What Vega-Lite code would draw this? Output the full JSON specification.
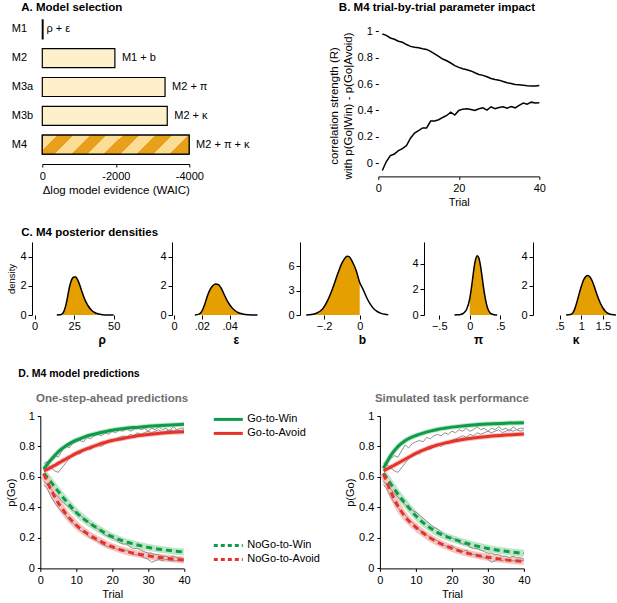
{
  "$schema": "https://vega.github.io/schema/vega-lite/v6.json",
  "padding": {"left": 5, "top": 1, "right": 0, "bottom": 0},
  "spacing": 18,
  "config": {
    "view": {"stroke": null},
    "font": "Liberation Sans",
    "axis": {"grid": false, "domainColor": "#000", "tickColor": "#000", "labelColor": "#000", "titleColor": "#000", "labelFontSize": 11, "titleFontSize": 11, "titleFontWeight": "normal", "tickSize": 4, "labelPadding": 2, "titlePadding": 4, "labelFlush": false, "labelOverlap": false, "labelFont": "Liberation Sans", "titleFont": "Liberation Sans"},
    "title": {"font": "Liberation Sans", "fontSize": 11.5, "fontWeight": "bold", "color": "#000"},
    "legend": {"labelFont": "Liberation Sans", "labelFontSize": 11, "labelColor": "#000", "padding": 0, "rowPadding": 1, "symbolStrokeWidth": 3, "symbolType": "M-2.9,0L2.9,0", "symbolSize": 100, "labelOffset": 12.5}
  },
  "resolve": {"scale": {"color": "independent", "stroke": "independent"}},
  "datasets": {
    "models": [
      {"model": "M1", "ev": -20, "label": "ρ + ε"},
      {"model": "M2", "ev": -1975, "label": "M1 + b"},
      {"model": "M3a", "ev": -3340, "label": "M2 + π"},
      {"model": "M3b", "ev": -3400, "label": "M2 + κ"},
      {"model": "M4", "ev": -3995, "label": "M2 + π + κ"}
    ],
    "impact": [
      {"t": 1, "pav": 0.98, "learn": -0.055}, {"t": 2, "pav": 0.97, "learn": 0.013}, {"t": 3, "pav": 0.95, "learn": 0.058}, {"t": 4, "pav": 0.94, "learn": 0.07},
      {"t": 5, "pav": 0.925, "learn": 0.096}, {"t": 6, "pav": 0.917, "learn": 0.11}, {"t": 7, "pav": 0.9, "learn": 0.134}, {"t": 8, "pav": 0.886, "learn": 0.19},
      {"t": 9, "pav": 0.88, "learn": 0.228}, {"t": 10, "pav": 0.876, "learn": 0.248}, {"t": 11, "pav": 0.868, "learn": 0.268}, {"t": 12, "pav": 0.863, "learn": 0.268},
      {"t": 13, "pav": 0.848, "learn": 0.32}, {"t": 14, "pav": 0.83, "learn": 0.32}, {"t": 15, "pav": 0.81, "learn": 0.33}, {"t": 16, "pav": 0.79, "learn": 0.347},
      {"t": 17, "pav": 0.777, "learn": 0.362}, {"t": 18, "pav": 0.76, "learn": 0.387}, {"t": 19, "pav": 0.74, "learn": 0.365}, {"t": 20, "pav": 0.727, "learn": 0.4},
      {"t": 21, "pav": 0.716, "learn": 0.41}, {"t": 22, "pav": 0.709, "learn": 0.413}, {"t": 23, "pav": 0.7, "learn": 0.408}, {"t": 24, "pav": 0.686, "learn": 0.4},
      {"t": 25, "pav": 0.673, "learn": 0.413}, {"t": 26, "pav": 0.666, "learn": 0.42}, {"t": 27, "pav": 0.656, "learn": 0.403}, {"t": 28, "pav": 0.643, "learn": 0.428},
      {"t": 29, "pav": 0.635, "learn": 0.413}, {"t": 30, "pav": 0.63, "learn": 0.423}, {"t": 31, "pav": 0.62, "learn": 0.428}, {"t": 32, "pav": 0.61, "learn": 0.418},
      {"t": 33, "pav": 0.605, "learn": 0.43}, {"t": 34, "pav": 0.597, "learn": 0.42}, {"t": 35, "pav": 0.595, "learn": 0.438}, {"t": 36, "pav": 0.592, "learn": 0.456},
      {"t": 37, "pav": 0.587, "learn": 0.448}, {"t": 38, "pav": 0.585, "learn": 0.463}, {"t": 39, "pav": 0.585, "learn": 0.456}, {"t": 40, "pav": 0.59, "learn": 0.458}
    ],
    "rho": [
      {"x": 14, "d": 0}, {"x": 16, "d": 0.01}, {"x": 17, "d": 0.05}, {"x": 18, "d": 0.15}, {"x": 19, "d": 0.4}, {"x": 20, "d": 0.8},
      {"x": 21, "d": 1.35}, {"x": 22, "d": 1.9}, {"x": 23, "d": 2.3}, {"x": 24, "d": 2.53}, {"x": 25, "d": 2.6}, {"x": 26, "d": 2.6},
      {"x": 27, "d": 2.45}, {"x": 28, "d": 2.2}, {"x": 29, "d": 1.9}, {"x": 30, "d": 1.57}, {"x": 31, "d": 1.27}, {"x": 32, "d": 1.0},
      {"x": 33, "d": 0.78}, {"x": 34, "d": 0.6}, {"x": 35, "d": 0.45}, {"x": 36, "d": 0.33}, {"x": 38, "d": 0.17}, {"x": 40, "d": 0.08},
      {"x": 43, "d": 0.025}, {"x": 47, "d": 0.005}, {"x": 50, "d": 0}
    ],
    "eps": [
      {"x": 0.015, "d": 0}, {"x": 0.018, "d": 0.06}, {"x": 0.02, "d": 0.25}, {"x": 0.022, "d": 0.7}, {"x": 0.024, "d": 1.3}, {"x": 0.026, "d": 1.75},
      {"x": 0.028, "d": 2.02}, {"x": 0.03, "d": 2.13}, {"x": 0.032, "d": 2.08}, {"x": 0.034, "d": 1.82}, {"x": 0.036, "d": 1.42}, {"x": 0.038, "d": 1.02},
      {"x": 0.04, "d": 0.7}, {"x": 0.042, "d": 0.46}, {"x": 0.044, "d": 0.29}, {"x": 0.046, "d": 0.17}, {"x": 0.048, "d": 0.1}, {"x": 0.05, "d": 0.055},
      {"x": 0.053, "d": 0.02}, {"x": 0.057, "d": 0.005}, {"x": 0.06, "d": 0}
    ],
    "bias": [
      {"x": -0.3, "d": 0}, {"x": -0.27, "d": 0.05}, {"x": -0.24, "d": 0.25}, {"x": -0.21, "d": 0.7}, {"x": -0.18, "d": 1.8}, {"x": -0.15, "d": 3.4},
      {"x": -0.12, "d": 5.3}, {"x": -0.1, "d": 6.4}, {"x": -0.08, "d": 7.1}, {"x": -0.07, "d": 7.25}, {"x": -0.06, "d": 7.2}, {"x": -0.04, "d": 6.5},
      {"x": -0.02, "d": 5.5}, {"x": 0, "d": 4.0}, {"x": 0.02, "d": 3.1}, {"x": 0.04, "d": 2.1}, {"x": 0.06, "d": 1.3}, {"x": 0.08, "d": 0.73},
      {"x": 0.1, "d": 0.4}, {"x": 0.12, "d": 0.2}, {"x": 0.14, "d": 0.08}, {"x": 0.16, "d": 0.02}
    ],
    "pi": [
      {"x": -0.25, "d": 0}, {"x": -0.2, "d": 0.01}, {"x": -0.15, "d": 0.04}, {"x": -0.1, "d": 0.15}, {"x": -0.05, "d": 0.45}, {"x": 0, "d": 1.25},
      {"x": 0.025, "d": 2.0}, {"x": 0.05, "d": 2.9}, {"x": 0.075, "d": 3.8}, {"x": 0.1, "d": 4.4}, {"x": 0.125, "d": 4.62}, {"x": 0.15, "d": 4.45},
      {"x": 0.175, "d": 3.9}, {"x": 0.2, "d": 3.1}, {"x": 0.225, "d": 2.2}, {"x": 0.25, "d": 1.45}, {"x": 0.275, "d": 0.85}, {"x": 0.3, "d": 0.45},
      {"x": 0.325, "d": 0.22}, {"x": 0.35, "d": 0.1}, {"x": 0.4, "d": 0.02}, {"x": 0.45, "d": 0}
    ],
    "kappa": [
      {"x": 0.65, "d": 0}, {"x": 0.75, "d": 0.03}, {"x": 0.8, "d": 0.13}, {"x": 0.85, "d": 0.42}, {"x": 0.9, "d": 0.9}, {"x": 0.95, "d": 1.45},
      {"x": 1.0, "d": 1.95}, {"x": 1.05, "d": 2.38}, {"x": 1.1, "d": 2.62}, {"x": 1.15, "d": 2.7}, {"x": 1.2, "d": 2.6}, {"x": 1.25, "d": 2.35},
      {"x": 1.3, "d": 1.95}, {"x": 1.35, "d": 1.5}, {"x": 1.4, "d": 1.1}, {"x": 1.45, "d": 0.75}, {"x": 1.5, "d": 0.48}, {"x": 1.55, "d": 0.28},
      {"x": 1.6, "d": 0.15}, {"x": 1.65, "d": 0.07}, {"x": 1.7, "d": 0.03}, {"x": 1.8, "d": 0}
    ],
    "modelL": [
      {"t": 1, "Go-to-Win": 0.652, "Go-to-Avoid": 0.64, "NoGo-to-Win": 0.625, "NoGo-to-Avoid": 0.62},
      {"t": 2, "Go-to-Win": 0.685, "Go-to-Avoid": 0.651, "NoGo-to-Win": 0.595, "NoGo-to-Avoid": 0.565},
      {"t": 3, "Go-to-Win": 0.713, "Go-to-Avoid": 0.663, "NoGo-to-Win": 0.565, "NoGo-to-Avoid": 0.515},
      {"t": 4, "Go-to-Win": 0.74, "Go-to-Avoid": 0.676, "NoGo-to-Win": 0.534, "NoGo-to-Avoid": 0.47},
      {"t": 5, "Go-to-Win": 0.765, "Go-to-Avoid": 0.689, "NoGo-to-Win": 0.505, "NoGo-to-Avoid": 0.43},
      {"t": 6, "Go-to-Win": 0.785, "Go-to-Avoid": 0.703, "NoGo-to-Win": 0.475, "NoGo-to-Avoid": 0.395},
      {"t": 7, "Go-to-Win": 0.802, "Go-to-Avoid": 0.716, "NoGo-to-Win": 0.447, "NoGo-to-Avoid": 0.362},
      {"t": 8, "Go-to-Win": 0.817, "Go-to-Avoid": 0.729, "NoGo-to-Win": 0.42, "NoGo-to-Avoid": 0.333},
      {"t": 10, "Go-to-Win": 0.842, "Go-to-Avoid": 0.755, "NoGo-to-Win": 0.368, "NoGo-to-Avoid": 0.284},
      {"t": 12, "Go-to-Win": 0.86, "Go-to-Avoid": 0.776, "NoGo-to-Win": 0.327, "NoGo-to-Avoid": 0.245},
      {"t": 14, "Go-to-Win": 0.875, "Go-to-Avoid": 0.794, "NoGo-to-Win": 0.292, "NoGo-to-Avoid": 0.214},
      {"t": 16, "Go-to-Win": 0.887, "Go-to-Avoid": 0.811, "NoGo-to-Win": 0.262, "NoGo-to-Avoid": 0.188},
      {"t": 18, "Go-to-Win": 0.897, "Go-to-Avoid": 0.826, "NoGo-to-Win": 0.232, "NoGo-to-Avoid": 0.163},
      {"t": 20, "Go-to-Win": 0.906, "Go-to-Avoid": 0.839, "NoGo-to-Win": 0.208, "NoGo-to-Avoid": 0.142},
      {"t": 23, "Go-to-Win": 0.916, "Go-to-Avoid": 0.853, "NoGo-to-Win": 0.18, "NoGo-to-Avoid": 0.118},
      {"t": 26, "Go-to-Win": 0.924, "Go-to-Avoid": 0.866, "NoGo-to-Win": 0.16, "NoGo-to-Avoid": 0.1},
      {"t": 30, "Go-to-Win": 0.932, "Go-to-Avoid": 0.878, "NoGo-to-Win": 0.138, "NoGo-to-Avoid": 0.083},
      {"t": 35, "Go-to-Win": 0.94, "Go-to-Avoid": 0.89, "NoGo-to-Win": 0.12, "NoGo-to-Avoid": 0.066},
      {"t": 40, "Go-to-Win": 0.946, "Go-to-Avoid": 0.897, "NoGo-to-Win": 0.107, "NoGo-to-Avoid": 0.055}
    ],
    "modelR": [
      {"t": 1, "Go-to-Win": 0.656, "Go-to-Avoid": 0.64, "NoGo-to-Win": 0.625, "NoGo-to-Avoid": 0.62},
      {"t": 2, "Go-to-Win": 0.7, "Go-to-Avoid": 0.652, "NoGo-to-Win": 0.59, "NoGo-to-Avoid": 0.56},
      {"t": 3, "Go-to-Win": 0.74, "Go-to-Avoid": 0.665, "NoGo-to-Win": 0.555, "NoGo-to-Avoid": 0.505},
      {"t": 4, "Go-to-Win": 0.772, "Go-to-Avoid": 0.677, "NoGo-to-Win": 0.52, "NoGo-to-Avoid": 0.455},
      {"t": 5, "Go-to-Win": 0.799, "Go-to-Avoid": 0.69, "NoGo-to-Win": 0.488, "NoGo-to-Avoid": 0.41},
      {"t": 6, "Go-to-Win": 0.82, "Go-to-Avoid": 0.703, "NoGo-to-Win": 0.457, "NoGo-to-Avoid": 0.372},
      {"t": 7, "Go-to-Win": 0.838, "Go-to-Avoid": 0.716, "NoGo-to-Win": 0.428, "NoGo-to-Avoid": 0.34},
      {"t": 8, "Go-to-Win": 0.852, "Go-to-Avoid": 0.729, "NoGo-to-Win": 0.4, "NoGo-to-Avoid": 0.313},
      {"t": 10, "Go-to-Win": 0.872, "Go-to-Avoid": 0.755, "NoGo-to-Win": 0.345, "NoGo-to-Avoid": 0.27},
      {"t": 12, "Go-to-Win": 0.888, "Go-to-Avoid": 0.776, "NoGo-to-Win": 0.3, "NoGo-to-Avoid": 0.232},
      {"t": 14, "Go-to-Win": 0.901, "Go-to-Avoid": 0.795, "NoGo-to-Win": 0.265, "NoGo-to-Avoid": 0.2},
      {"t": 16, "Go-to-Win": 0.912, "Go-to-Avoid": 0.81, "NoGo-to-Win": 0.235, "NoGo-to-Avoid": 0.173},
      {"t": 18, "Go-to-Win": 0.92, "Go-to-Avoid": 0.822, "NoGo-to-Win": 0.213, "NoGo-to-Avoid": 0.151},
      {"t": 20, "Go-to-Win": 0.927, "Go-to-Avoid": 0.833, "NoGo-to-Win": 0.196, "NoGo-to-Avoid": 0.132},
      {"t": 23, "Go-to-Win": 0.935, "Go-to-Avoid": 0.846, "NoGo-to-Win": 0.172, "NoGo-to-Avoid": 0.108},
      {"t": 26, "Go-to-Win": 0.941, "Go-to-Avoid": 0.856, "NoGo-to-Win": 0.152, "NoGo-to-Avoid": 0.09},
      {"t": 30, "Go-to-Win": 0.947, "Go-to-Avoid": 0.866, "NoGo-to-Win": 0.131, "NoGo-to-Avoid": 0.073},
      {"t": 35, "Go-to-Win": 0.953, "Go-to-Avoid": 0.875, "NoGo-to-Win": 0.112, "NoGo-to-Avoid": 0.056},
      {"t": 40, "Go-to-Win": 0.956, "Go-to-Avoid": 0.882, "NoGo-to-Win": 0.098, "NoGo-to-Avoid": 0.045}
    ],
    "obs": [
      {"t": 1, "Go-to-Win": 0.69, "Go-to-Avoid": 0.66, "NoGo-to-Win": 0.57, "NoGo-to-Avoid": 0.55},
      {"t": 2, "Go-to-Win": 0.7, "Go-to-Avoid": 0.68, "NoGo-to-Win": 0.55, "NoGo-to-Avoid": 0.52},
      {"t": 3, "Go-to-Win": 0.72, "Go-to-Avoid": 0.66, "NoGo-to-Win": 0.52, "NoGo-to-Avoid": 0.47},
      {"t": 4, "Go-to-Win": 0.74, "Go-to-Avoid": 0.64, "NoGo-to-Win": 0.49, "NoGo-to-Avoid": 0.43},
      {"t": 5, "Go-to-Win": 0.73, "Go-to-Avoid": 0.63, "NoGo-to-Win": 0.47, "NoGo-to-Avoid": 0.4},
      {"t": 6, "Go-to-Win": 0.77, "Go-to-Avoid": 0.66, "NoGo-to-Win": 0.44, "NoGo-to-Avoid": 0.37},
      {"t": 7, "Go-to-Win": 0.81, "Go-to-Avoid": 0.69, "NoGo-to-Win": 0.42, "NoGo-to-Avoid": 0.35},
      {"t": 8, "Go-to-Win": 0.79, "Go-to-Avoid": 0.72, "NoGo-to-Win": 0.4, "NoGo-to-Avoid": 0.32},
      {"t": 9, "Go-to-Win": 0.82, "Go-to-Avoid": 0.74, "NoGo-to-Win": 0.38, "NoGo-to-Avoid": 0.3},
      {"t": 10, "Go-to-Win": 0.83, "Go-to-Avoid": 0.76, "NoGo-to-Win": 0.37, "NoGo-to-Avoid": 0.28},
      {"t": 11, "Go-to-Win": 0.84, "Go-to-Avoid": 0.75, "NoGo-to-Win": 0.35, "NoGo-to-Avoid": 0.25},
      {"t": 12, "Go-to-Win": 0.83, "Go-to-Avoid": 0.78, "NoGo-to-Win": 0.33, "NoGo-to-Avoid": 0.24},
      {"t": 13, "Go-to-Win": 0.86, "Go-to-Avoid": 0.79, "NoGo-to-Win": 0.31, "NoGo-to-Avoid": 0.22},
      {"t": 14, "Go-to-Win": 0.85, "Go-to-Avoid": 0.78, "NoGo-to-Win": 0.29, "NoGo-to-Avoid": 0.2},
      {"t": 15, "Go-to-Win": 0.87, "Go-to-Avoid": 0.8, "NoGo-to-Win": 0.27, "NoGo-to-Avoid": 0.19},
      {"t": 16, "Go-to-Win": 0.88, "Go-to-Avoid": 0.81, "NoGo-to-Win": 0.26, "NoGo-to-Avoid": 0.18},
      {"t": 17, "Go-to-Win": 0.87, "Go-to-Avoid": 0.8, "NoGo-to-Win": 0.24, "NoGo-to-Avoid": 0.16},
      {"t": 18, "Go-to-Win": 0.89, "Go-to-Avoid": 0.82, "NoGo-to-Win": 0.22, "NoGo-to-Avoid": 0.15},
      {"t": 19, "Go-to-Win": 0.88, "Go-to-Avoid": 0.83, "NoGo-to-Win": 0.21, "NoGo-to-Avoid": 0.14},
      {"t": 20, "Go-to-Win": 0.9, "Go-to-Avoid": 0.84, "NoGo-to-Win": 0.2, "NoGo-to-Avoid": 0.15},
      {"t": 21, "Go-to-Win": 0.89, "Go-to-Avoid": 0.85, "NoGo-to-Win": 0.19, "NoGo-to-Avoid": 0.13},
      {"t": 22, "Go-to-Win": 0.91, "Go-to-Avoid": 0.86, "NoGo-to-Win": 0.17, "NoGo-to-Avoid": 0.12},
      {"t": 23, "Go-to-Win": 0.9, "Go-to-Avoid": 0.87, "NoGo-to-Win": 0.16, "NoGo-to-Avoid": 0.11},
      {"t": 24, "Go-to-Win": 0.92, "Go-to-Avoid": 0.86, "NoGo-to-Win": 0.16, "NoGo-to-Avoid": 0.12},
      {"t": 25, "Go-to-Win": 0.9, "Go-to-Avoid": 0.88, "NoGo-to-Win": 0.14, "NoGo-to-Avoid": 0.1},
      {"t": 26, "Go-to-Win": 0.91, "Go-to-Avoid": 0.87, "NoGo-to-Win": 0.13, "NoGo-to-Avoid": 0.09},
      {"t": 27, "Go-to-Win": 0.93, "Go-to-Avoid": 0.89, "NoGo-to-Win": 0.13, "NoGo-to-Avoid": 0.09},
      {"t": 28, "Go-to-Win": 0.91, "Go-to-Avoid": 0.88, "NoGo-to-Win": 0.12, "NoGo-to-Avoid": 0.08},
      {"t": 29, "Go-to-Win": 0.92, "Go-to-Avoid": 0.89, "NoGo-to-Win": 0.11, "NoGo-to-Avoid": 0.07},
      {"t": 30, "Go-to-Win": 0.9, "Go-to-Avoid": 0.9, "NoGo-to-Win": 0.1, "NoGo-to-Avoid": 0.06},
      {"t": 31, "Go-to-Win": 0.92, "Go-to-Avoid": 0.89, "NoGo-to-Win": 0.1, "NoGo-to-Avoid": 0.04},
      {"t": 32, "Go-to-Win": 0.91, "Go-to-Avoid": 0.9, "NoGo-to-Win": 0.09, "NoGo-to-Avoid": 0.05},
      {"t": 33, "Go-to-Win": 0.93, "Go-to-Avoid": 0.91, "NoGo-to-Win": 0.09, "NoGo-to-Avoid": 0.06},
      {"t": 34, "Go-to-Win": 0.91, "Go-to-Avoid": 0.89, "NoGo-to-Win": 0.08, "NoGo-to-Avoid": 0.05},
      {"t": 35, "Go-to-Win": 0.92, "Go-to-Avoid": 0.9, "NoGo-to-Win": 0.08, "NoGo-to-Avoid": 0.06},
      {"t": 36, "Go-to-Win": 0.9, "Go-to-Avoid": 0.91, "NoGo-to-Win": 0.07, "NoGo-to-Avoid": 0.05},
      {"t": 37, "Go-to-Win": 0.93, "Go-to-Avoid": 0.9, "NoGo-to-Win": 0.08, "NoGo-to-Avoid": 0.05},
      {"t": 38, "Go-to-Win": 0.91, "Go-to-Avoid": 0.91, "NoGo-to-Win": 0.07, "NoGo-to-Avoid": 0.05},
      {"t": 39, "Go-to-Win": 0.92, "Go-to-Avoid": 0.9, "NoGo-to-Win": 0.07, "NoGo-to-Avoid": 0.05},
      {"t": 40, "Go-to-Win": 0.92, "Go-to-Avoid": 0.91, "NoGo-to-Win": 0.06, "NoGo-to-Avoid": 0.05}
    ]
  },
  "vconcat": [
    {
      "hconcat": [
        {"width": 1, "height": 1, "data": {"values": [{}]}, "mark": {"type": "point", "opacity": 0}},
        {
          "hconcat": [
            {
              "width": 147,
              "height": 144,
              "title": {"text": "A. Model selection", "anchor": "start", "frame": "group", "dx": -21, "offset": 2},
              "data": {"name": "models"},
              "encoding": {
                "y": {"field": "model", "type": "nominal", "sort": null, "scale": {"paddingInner": 0.34, "paddingOuter": 0.17},
                  "axis": {"title": null, "domain": false, "ticks": false, "labelAlign": "left", "labelPadding": 31}},
                "x": {"field": "ev", "type": "quantitative", "scale": {"domain": [0, -4000], "nice": false},
                  "axis": {"values": [0, -2000, -4000], "labelExpr": "datum.value == 0 ? '0' : '-' + abs(datum.value)", "title": "Δlog model evidence (WAIC)", "titleFontSize": 11.5, "offset": 5, "tickSize": 3, "labelPadding": 3, "titlePadding": 3}}
              },
              "layer": [
                {"mark": {"type": "bar", "fill": "#FDF0CB", "stroke": "#000", "strokeWidth": 1.2}},
                {
                  "transform": [{"filter": "datum.model == 'M4'"}],
                  "mark": {"type": "bar", "stroke": "#000", "strokeWidth": 1.2,
                    "fill": {"gradient": "linear", "x1": 0, "y1": 0, "x2": 1, "y2": 0.13, "stops": [
                      {"offset": 0, "color": "#FCDD95"}, {"offset": 0.1, "color": "#FCDD95"}, {"offset": 0.1, "color": "#E8A01C"}, {"offset": 0.21, "color": "#E8A01C"},
                      {"offset": 0.21, "color": "#FCDD95"}, {"offset": 0.32, "color": "#FCDD95"}, {"offset": 0.32, "color": "#E8A01C"}, {"offset": 0.43, "color": "#E8A01C"},
                      {"offset": 0.43, "color": "#FCDD95"}, {"offset": 0.54, "color": "#FCDD95"}, {"offset": 0.54, "color": "#E8A01C"}, {"offset": 0.65, "color": "#E8A01C"},
                      {"offset": 0.65, "color": "#FCDD95"}, {"offset": 0.76, "color": "#FCDD95"}, {"offset": 0.76, "color": "#E8A01C"}, {"offset": 0.87, "color": "#E8A01C"},
                      {"offset": 0.87, "color": "#FCDD95"}, {"offset": 0.98, "color": "#FCDD95"}, {"offset": 0.98, "color": "#E8A01C"}, {"offset": 1, "color": "#E8A01C"}
                    ]}}
                },
                {
                  "transform": [{"filter": "datum.model != 'M1'"}],
                  "mark": {"type": "text", "align": "left", "baseline": "middle", "dx": 7, "fontSize": 11},
                  "encoding": {"text": {"field": "label"}}
                },
                {
                  "transform": [{"filter": "datum.model == 'M1'"}],
                  "mark": {"type": "text", "align": "left", "baseline": "middle", "dx": 3.5, "fontSize": 11},
                  "encoding": {"text": {"field": "label"}}
                },
                {
                  "data": {"values": [{}]},
                  "mark": {"type": "rule", "color": "#000", "strokeWidth": 1},
                  "encoding": {"x": {"datum": 136}, "y": {"datum": "M1"}, "y2": {"datum": "M4"}}
                }
              ]
            },
            {
              "width": 161,
              "height": 161.4,
              "title": {"text": "B. M4 trial-by-trial parameter impact", "anchor": "middle", "frame": "bounds", "offset": 2},
              "encoding": {
                "x": {"field": "t", "type": "quantitative", "scale": {"domain": [0, 40], "nice": false},
                  "axis": {"values": [0, 20, 40], "title": "Trial", "tickSize": 3, "labelPadding": 3, "titlePadding": 3}},
                "y": {"field": "v", "type": "quantitative", "scale": {"domain": [-0.1, 1.124], "nice": false, "zero": false},
                  "axis": {"values": [0, 0.2, 0.4, 0.6, 0.8, 1], "format": "~g", "domain": false, "tickSize": 3, "labelPadding": 3,
                    "title": ["correlation strength (R)", "with p(Go|Win) - p(Go|Avoid)"], "titleFontSize": 11.5, "titleY": 90.4, "titlePadding": 4}}
              },
              "layer": [
                {
                  "data": {"values": [{}]},
                  "mark": {"type": "rule", "color": "#000", "strokeWidth": 1},
                  "encoding": {"x": {"datum": 0}, "y": {"datum": -0.1}, "y2": {"datum": 1}}
                },
                {
                  "data": {"name": "impact"},
                  "transform": [{"fold": ["pav", "learn"], "as": ["param", "v"]}],
                  "mark": {"type": "line", "color": "#000", "strokeWidth": 1.5},
                  "encoding": {"detail": {"field": "param"}}
                },
                {
                  "data": {"values": [{}]},
                  "mark": {"type": "text", "font": "Lato", "fontSize": 9, "align": "center", "baseline": "middle"},
                  "encoding": {"x": {"datum": 31}, "y": {"datum": 0.745}, "text": {"value": "Pav. bias (π)"}}
                },
                {
                  "data": {"values": [{}]},
                  "mark": {"type": "text", "font": "Lato", "fontSize": 9, "align": "center", "baseline": "middle"},
                  "encoding": {"x": {"datum": 31}, "y": {"datum": 0.327}, "text": {"value": "learn. bias (κ)"}}
                }
              ]
            }
          ],
          "spacing": 189,
          "bounds": "flush"
        }
      ],
      "spacing": 9.3,
      "bounds": "flush"
    },
    {
      "title": {"text": " ", "orient": "bottom", "fontSize": 1, "offset": 4},
      "hconcat": [
        {
          "width": 139.3,
          "height": 73,
          "title": {"text": "C. M4 posterior densities", "anchor": "start", "frame": "group", "dx": -10.7, "offset": 4},
          "data": {"name": "rho"},
          "encoding": {
            "x": {"field": "x", "type": "quantitative", "scale": {"domain": [-1.7, 86.5], "nice": false, "zero": false},
              "axis": {"values": [0, 25, 50], "domain": false, "labelPadding": 1, "title": "ρ", "titleFontWeight": "bold", "titleFontSize": 12, "titlePadding": 3}},
            "y": {"field": "d", "type": "quantitative", "scale": {"domain": [0, 5], "nice": false},
              "axis": {"values": [0, 2, 4], "title": "density", "titleFontSize": 9.5, "titlePadding": 3}}
          },
          "layer": [
            {"mark": {"type": "area", "color": "#E69F00", "interpolate": "monotone"}},
            {"mark": {"type": "line", "color": "#000", "strokeWidth": 1.5, "interpolate": "monotone"}},
            {"data": {"values": [{}]}, "mark": {"type": "rule", "color": "#000"}, "encoding": {"x": {"datum": -1.7}, "x2": {"datum": 50.2}, "y": {"datum": 0}}}
          ]
        },
        {
          "width": 127.7,
          "height": 73,
          "data": {"name": "eps"},
          "encoding": {
            "x": {"field": "x", "type": "quantitative", "scale": {"domain": [-0.0014, 0.0903], "nice": false, "zero": false},
              "axis": {"values": [0, 0.02, 0.04], "domain": false, "labelPadding": 1, "labelExpr": "datum.value == 0 ? '0' : replace(format(datum.value, '~g'), '0.', '.')", "title": "ε", "titleFontWeight": "bold", "titleFontSize": 12, "titlePadding": 3}},
            "y": {"field": "d", "type": "quantitative", "scale": {"domain": [0, 5], "nice": false},
              "axis": {"values": [0, 2, 4], "title": null}}
          },
          "layer": [
            {"mark": {"type": "area", "color": "#E69F00", "interpolate": "monotone"}},
            {"mark": {"type": "line", "color": "#000", "strokeWidth": 1.5, "interpolate": "monotone"}},
            {"data": {"values": [{}]}, "mark": {"type": "rule", "color": "#000"}, "encoding": {"x": {"datum": -0.0014}, "x2": {"datum": 0.0612}, "y": {"datum": 0}}}
          ]
        },
        {
          "width": 124,
          "height": 73,
          "data": {"name": "bias"},
          "encoding": {
            "x": {"field": "x", "type": "quantitative", "scale": {"domain": [-0.335, 0.3605], "nice": false, "zero": false},
              "axis": {"values": [-0.2, 0], "domain": false, "labelPadding": 1, "labelExpr": "datum.value == 0 ? '0' : replace(format(datum.value, '~g'), '0.', '.')", "title": "b", "titleFontWeight": "bold", "titleFontSize": 12, "titlePadding": 3}},
            "y": {"field": "d", "type": "quantitative", "scale": {"domain": [0, 9], "nice": false},
              "axis": {"values": [0, 3, 6], "title": null}}
          },
          "layer": [
            {"transform": [{"filter": "datum.x <= 0"}], "mark": {"type": "area", "color": "#E69F00", "interpolate": "monotone"}},
            {"mark": {"type": "line", "color": "#000", "strokeWidth": 1.5, "interpolate": "monotone"}},
            {"data": {"values": [{}]}, "mark": {"type": "rule", "color": "#000", "strokeWidth": 1.5}, "encoding": {"x": {"datum": 0}, "y": {"datum": 0}, "y2": {"datum": 4.0}}},
            {"data": {"values": [{}]}, "mark": {"type": "rule", "color": "#000"}, "encoding": {"x": {"datum": -0.335}, "x2": {"datum": 0.161}, "y": {"datum": 0}}}
          ]
        },
        {
          "width": 108.3,
          "height": 73,
          "data": {"name": "pi"},
          "encoding": {
            "x": {"field": "x", "type": "quantitative", "scale": {"domain": [-0.749, 1.026], "nice": false, "zero": false},
              "axis": {"values": [-0.5, 0, 0.5], "domain": false, "labelPadding": 1, "labelExpr": "datum.value == 0 ? '0' : replace(format(datum.value, '~g'), '0.', '.')", "title": "π", "titleFontWeight": "bold", "titleFontSize": 12, "titlePadding": 3}},
            "y": {"field": "d", "type": "quantitative", "scale": {"domain": [0, 5.7], "nice": false},
              "axis": {"values": [0, 2, 4], "title": null}}
          },
          "layer": [
            {"transform": [{"filter": "datum.x >= 0"}], "mark": {"type": "area", "color": "#E69F00", "interpolate": "monotone"}},
            {"mark": {"type": "line", "color": "#000", "strokeWidth": 1.5, "interpolate": "monotone"}},
            {"data": {"values": [{}]}, "mark": {"type": "rule", "color": "#000"}, "encoding": {"x": {"datum": -0.749}, "x2": {"datum": 0.48}, "y": {"datum": 0}}}
          ]
        },
        {
          "width": 85,
          "height": 73,
          "data": {"name": "kappa"},
          "encoding": {
            "x": {"field": "x", "type": "quantitative", "scale": {"domain": [-0.115, 1.848], "nice": false, "zero": false},
              "axis": {"values": [0.5, 1, 1.5], "domain": false, "labelPadding": 1, "labelExpr": "datum.value == 0 ? '0' : replace(format(datum.value, '~g'), '0.', '.')", "title": "κ", "titleFontWeight": "bold", "titleFontSize": 12, "titlePadding": 3}},
            "y": {"field": "d", "type": "quantitative", "scale": {"domain": [0, 5], "nice": false},
              "axis": {"values": [0, 2, 4], "title": null}}
          },
          "layer": [
            {"mark": {"type": "area", "color": "#E69F00", "interpolate": "monotone"}},
            {"mark": {"type": "line", "color": "#000", "strokeWidth": 1.5, "interpolate": "monotone"}},
            {"data": {"values": [{}]}, "mark": {"type": "rule", "color": "#000"}, "encoding": {"x": {"datum": -0.115}, "x2": {"datum": 1.848}, "y": {"datum": 0}}}
          ]
        }
      ],
      "spacing": 0,
      "bounds": "flush"
    },
    {
      "title": {"text": "D. M4 model predictions", "anchor": "start", "frame": "group", "dx": -13.7, "fontSize": 10.5, "offset": 14},
      "hconcat": [
        {"width": 1, "height": 1, "data": {"values": [{}]}, "mark": {"type": "point", "opacity": 0}},
        {
          "hconcat": [
            {
              "width": 143.7,
              "height": 152.4,
              "title": {"text": "One-step-ahead predictions", "color": "#6E6E6E", "fontSize": 11.5, "offset": 5.5},
              "encoding": {
                "x": {"field": "t", "type": "quantitative", "scale": {"domain": [0, 40], "nice": false},
                  "axis": {"values": [0, 10, 20, 30, 40], "title": "Trial", "tickSize": 3, "labelPadding": 3, "titlePadding": 3}},
                "y": {"field": "p", "type": "quantitative", "scale": {"domain": [0, 1], "nice": false},
                  "axis": {"values": [0, 0.2, 0.4, 0.6, 0.8, 1], "format": "~g", "title": "p(Go)", "tickSize": 3, "labelPadding": 3, "titlePadding": 3}}
              },
              "layer": [
                {
                  "data": {"name": "modelL"},
                  "transform": [{"fold": ["Go-to-Win", "Go-to-Avoid", "NoGo-to-Win", "NoGo-to-Avoid"], "as": ["cond", "p"]}, {"filter": "datum.cond == 'Go-to-Win' || datum.cond == 'Go-to-Avoid'"}],
                  "mark": {"type": "line", "strokeWidth": 5, "interpolate": "monotone"},
                  "encoding": {"detail": {"field": "cond"}, "color": {"condition": {"test": "datum.cond == 'Go-to-Win'", "value": "#BCE6C6"}, "value": "#F7C4C1"}}
                },
                {
                  "data": {"name": "modelL"},
                  "transform": [{"fold": ["Go-to-Win", "Go-to-Avoid", "NoGo-to-Win", "NoGo-to-Avoid"], "as": ["cond", "p"]}, {"filter": "datum.cond == 'NoGo-to-Win' || datum.cond == 'NoGo-to-Avoid'"}],
                  "mark": {"type": "line", "strokeWidth": 7, "interpolate": "monotone"},
                  "encoding": {"detail": {"field": "cond"}, "color": {"condition": {"test": "datum.cond == 'NoGo-to-Win'", "value": "#BCE6C6"}, "value": "#F7C4C1"}}
                },
                {
                  "data": {"name": "obs"},
                  "transform": [{"fold": ["Go-to-Win", "Go-to-Avoid", "NoGo-to-Win", "NoGo-to-Avoid"], "as": ["cond", "p"]}],
                  "mark": {"type": "line", "strokeWidth": 1, "color": "#8F8F8F"},
                  "encoding": {"detail": {"field": "cond"}}
                },
                {
                  "data": {"name": "modelL"},
                  "transform": [{"fold": ["Go-to-Win", "Go-to-Avoid", "NoGo-to-Win", "NoGo-to-Avoid"], "as": ["cond", "p"]}, {"filter": "datum.cond == 'Go-to-Win' || datum.cond == 'Go-to-Avoid'"}],
                  "mark": {"type": "line", "strokeWidth": 3, "interpolate": "monotone"},
                  "encoding": {"color": {"field": "cond", "type": "nominal", "scale": {"domain": ["Go-to-Win", "Go-to-Avoid"], "range": ["#0E9C4A", "#E5332A"]},
                    "legend": {"orient": "none", "legendX": 181.5, "legendY": -3.1, "title": null}}}
                },
                {
                  "data": {"name": "modelL"},
                  "transform": [{"fold": ["Go-to-Win", "Go-to-Avoid", "NoGo-to-Win", "NoGo-to-Avoid"], "as": ["cond", "p"]}, {"filter": "datum.cond == 'NoGo-to-Win' || datum.cond == 'NoGo-to-Avoid'"}],
                  "mark": {"type": "line", "strokeWidth": 3, "strokeDash": [6, 4], "interpolate": "monotone"},
                  "encoding": {"stroke": {"field": "cond", "type": "nominal", "scale": {"domain": ["NoGo-to-Win", "NoGo-to-Avoid"], "range": ["#0E9C4A", "#E5332A"]},
                    "legend": {"orient": "none", "legendX": 181.5, "legendY": 122.9, "title": null, "symbolDash": [4, 3]}}}
                }
              ]
            },
            {
              "width": 144,
              "height": 152.4,
              "title": {"text": "Simulated task performance", "color": "#6E6E6E", "fontSize": 11.5, "offset": 5.5},
              "encoding": {
                "x": {"field": "t", "type": "quantitative", "scale": {"domain": [0, 40], "nice": false},
                  "axis": {"values": [0, 10, 20, 30, 40], "title": "Trial", "tickSize": 3, "labelPadding": 3, "titlePadding": 3}},
                "y": {"field": "p", "type": "quantitative", "scale": {"domain": [0, 1], "nice": false},
                  "axis": {"values": [0, 0.2, 0.4, 0.6, 0.8, 1], "format": "~g", "title": "p(Go)", "tickSize": 3, "labelPadding": 3, "titlePadding": 3}}
              },
              "layer": [
                {
                  "data": {"name": "modelR"},
                  "transform": [{"fold": ["Go-to-Win", "Go-to-Avoid", "NoGo-to-Win", "NoGo-to-Avoid"], "as": ["cond", "p"]}, {"filter": "datum.cond == 'Go-to-Win' || datum.cond == 'Go-to-Avoid'"}],
                  "mark": {"type": "line", "strokeWidth": 5, "interpolate": "monotone"},
                  "encoding": {"detail": {"field": "cond"}, "color": {"condition": {"test": "datum.cond == 'Go-to-Win'", "value": "#BCE6C6"}, "value": "#F7C4C1"}}
                },
                {
                  "data": {"name": "modelR"},
                  "transform": [{"fold": ["Go-to-Win", "Go-to-Avoid", "NoGo-to-Win", "NoGo-to-Avoid"], "as": ["cond", "p"]}, {"filter": "datum.cond == 'NoGo-to-Win' || datum.cond == 'NoGo-to-Avoid'"}],
                  "mark": {"type": "line", "strokeWidth": 7, "interpolate": "monotone"},
                  "encoding": {"detail": {"field": "cond"}, "color": {"condition": {"test": "datum.cond == 'NoGo-to-Win'", "value": "#BCE6C6"}, "value": "#F7C4C1"}}
                },
                {
                  "data": {"name": "obs"},
                  "transform": [{"fold": ["Go-to-Win", "Go-to-Avoid", "NoGo-to-Win", "NoGo-to-Avoid"], "as": ["cond", "p"]}],
                  "mark": {"type": "line", "strokeWidth": 1, "color": "#8F8F8F"},
                  "encoding": {"detail": {"field": "cond"}}
                },
                {
                  "data": {"name": "modelR"},
                  "transform": [{"fold": ["Go-to-Win", "Go-to-Avoid", "NoGo-to-Win", "NoGo-to-Avoid"], "as": ["cond", "p"]}, {"filter": "datum.cond == 'Go-to-Win' || datum.cond == 'Go-to-Avoid'"}],
                  "mark": {"type": "line", "strokeWidth": 3, "interpolate": "monotone"},
                  "encoding": {"detail": {"field": "cond"}, "color": {"condition": {"test": "datum.cond == 'Go-to-Win'", "value": "#0E9C4A"}, "value": "#E5332A"}}
                },
                {
                  "data": {"name": "modelR"},
                  "transform": [{"fold": ["Go-to-Win", "Go-to-Avoid", "NoGo-to-Win", "NoGo-to-Avoid"], "as": ["cond", "p"]}, {"filter": "datum.cond == 'NoGo-to-Win' || datum.cond == 'NoGo-to-Avoid'"}],
                  "mark": {"type": "line", "strokeWidth": 3, "strokeDash": [6, 4], "interpolate": "monotone"},
                  "encoding": {"detail": {"field": "cond"}, "color": {"condition": {"test": "datum.cond == 'NoGo-to-Win'", "value": "#0E9C4A"}, "value": "#E5332A"}}
                }
              ]
            }
          ],
          "spacing": 195.6,
          "bounds": "flush",
          "resolve": {"scale": {"color": "independent", "stroke": "independent"}}
        }
      ],
      "spacing": 7.3,
      "bounds": "flush",
      "resolve": {"scale": {"color": "independent", "stroke": "independent"}}
    }
  ]
}
